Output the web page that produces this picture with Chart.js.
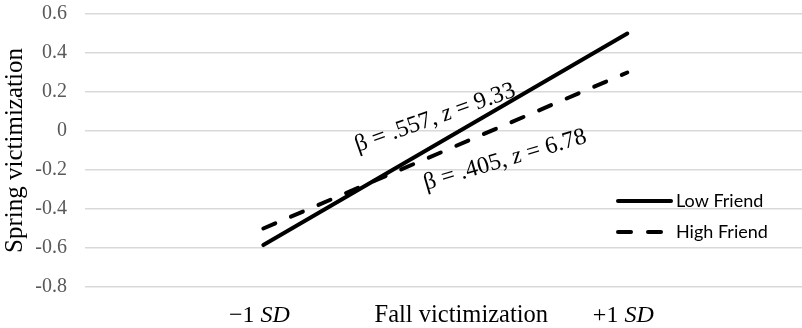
<!DOCTYPE html>
<html>
<head>
<meta charset="utf-8">
<script src="https://cdn.jsdelivr.net/npm/chart.js@4.4.1/dist/chart.umd.min.js"></script>
<style>
  html, body { margin: 0; padding: 0; background: #fff; }
  #wrap { width: 802px; height: 328px; }
</style>
</head>
<body>
<div id="wrap"><canvas id="chart" width="802" height="328"></canvas></div>
<script>
const categories = ['−1 SD', '+1 SD'];
const seriesNames = ['Low Friend', 'High Friend'];
const lowFriend = [-0.585, 0.50];
const highFriend = [-0.50, 0.30];
const yTicks = [-0.8, -0.6, -0.4, -0.2, 0, 0.2, 0.4, 0.6];
const yTickLabels = ['-0.8', '-0.6', '-0.4', '-0.2', '0', '0.2', '0.4', '0.6'];
const slopeLabels = ['β = .557, z = 9.33', 'β = .405, z = 6.78'];

const serif = '"Liberation Serif", "Times New Roman", serif';

// draws text where single-letter "SD" / "z" parts are italic
function drawRich(ctx, parts, x, y, size) {
    let total = 0;
    parts.forEach(p => {
        ctx.font = (p.italic ? 'italic ' : '') + size + 'px ' + serif;
        p.w = ctx.measureText(p.text).width;
        total += p.w;
    });
    let cx = x - total / 2;
    parts.forEach(p => {
        ctx.font = (p.italic ? 'italic ' : '') + size + 'px ' + serif;
        ctx.fillText(p.text, cx, y);
        cx += p.w;
    });
}

function splitItalic(str, word) {
    const i = str.indexOf(word);
    return [
        { text: str.slice(0, i), italic: false },
        { text: word, italic: true },
        { text: str.slice(i + word.length), italic: false }
    ];
}

const extras = {
    id: 'extras',
    afterDraw(chart) {
        const ctx = chart.ctx;
        const x = chart.scales.x;
        const y = chart.scales.y;
        const area = chart.chartArea;
        ctx.save();
        ctx.fillStyle = '#000';
        ctx.textAlign = 'left';
        ctx.textBaseline = 'alphabetic';

        // category labels and axis title
        categories.forEach((c, i) => {
            drawRich(ctx, splitItalic(c, 'SD'), x.getPixelForValue(i) - 4, 322, 24);
        });
        ctx.font = '24.5px ' + serif;
        ctx.textAlign = 'center';
        ctx.fillText('Fall victimization', (x.getPixelForValue(0) + x.getPixelForValue(1)) / 2 + 16, 322);
        ctx.textAlign = 'left';

        // slope annotations
        const spots = [[0.472, 0.067, -19.5], [0.664, -0.149, -16.4]];
        slopeLabels.forEach((t, i) => {
            const [vx, vy, ang] = spots[i];
            ctx.save();
            ctx.translate(x.getPixelForValue(vx), y.getPixelForValue(vy));
            ctx.rotate(ang * Math.PI / 180);
            ctx.textBaseline = 'middle';
            drawRich(ctx, splitItalic(t, 'z'), 0, 0, 24);
            ctx.restore();
        });

        // legend inside plot
        chart.data.datasets.forEach((ds, i) => {
            const ly = [201, 232][i];
            const lx = area.right - 184;
            ctx.beginPath();
            ctx.setLineDash(ds.borderDash || []);
            ctx.lineWidth = ds.borderWidth;
            ctx.lineCap = ds.borderCapStyle;
            ctx.strokeStyle = ds.borderColor;
            ctx.moveTo(lx, ly);
            ctx.lineTo(lx + 53, ly);
            ctx.stroke();
            ctx.setLineDash([]);
            ctx.font = '18px Lato, "Open Sans", sans-serif';
            ctx.textBaseline = 'middle';
            ctx.fillStyle = '#000';
            ctx.fillText(ds.label, lx + 58, ly);
        });
        ctx.restore();
    }
};

new Chart(document.getElementById('chart'), {
    type: 'line',
    data: {
        datasets: [{
            label: seriesNames[0],
            data: lowFriend.map((v, i) => ({ x: i, y: v })),
            borderColor: '#000',
            borderWidth: 4,
            borderCapStyle: 'round',
            pointRadius: 0,
            fill: false
        }, {
            label: seriesNames[1],
            data: highFriend.map((v, i) => ({ x: i, y: v })),
            borderColor: '#000',
            borderWidth: 4,
            borderDash: [13, 17],
            borderCapStyle: 'round',
            pointRadius: 0,
            fill: false
        }]
    },
    options: {
        responsive: false,
        animation: false,
        devicePixelRatio: 1,
        layout: { padding: 0 },
        plugins: {
            legend: { display: false },
            tooltip: { enabled: false }
        },
        scales: {
            x: {
                type: 'linear',
                min: -0.49,
                max: 1.48,
                ticks: { display: false },
                grid: { display: false },
                border: { display: false },
                afterFit: scale => { scale.height = 41; }
            },
            y: {
                min: -0.8,
                max: 0.6,
                afterBuildTicks: scale => {
                    scale.ticks = yTicks.map(v => ({ value: v }));
                },
                ticks: {
                    padding: 18,
                    color: '#595959',
                    font: { family: serif, size: 20 },
                    callback: (v, i) => yTickLabels[i]
                },
                grid: { color: '#d9d9d9', lineWidth: 1.5, drawTicks: false },
                border: { display: false },
                title: {
                    display: true,
                    text: 'Spring victimization',
                    color: '#000',
                    font: { family: serif, size: 25 },
                    padding: { top: 0, bottom: 0 }
                },
                afterFit: scale => {
                    scale.width = 85;
                    scale.paddingTop = 14;
                    scale.paddingBottom = 0;
                }
            }
        }
    },
    plugins: [extras]
});
</script>
</body>
</html>
